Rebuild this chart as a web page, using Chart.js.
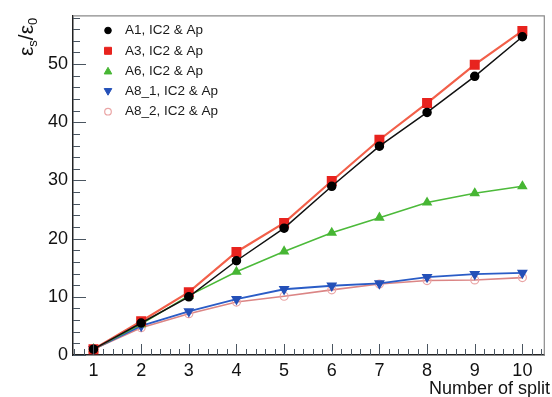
<!DOCTYPE html>
<html>
<head>
<meta charset="utf-8">
<script src="https://cdn.jsdelivr.net/npm/chart.js@4/dist/chart.umd.min.js"></script>
<style>
  html, body { margin: 0; padding: 0; background: #fff; }
  #wrap { width: 552px; height: 397px; }
</style>
</head>
<body>
<div id="wrap"><canvas id="c" width="552" height="397"></canvas></div>
<script>
// --- data ---
const splits = [1, 2, 3, 4, 5, 6, 7, 8, 9, 10];
const xTicks = [1, 2, 3, 4, 5, 6, 7, 8, 9, 10];
const yTicks = [0, 10, 20, 30, 40, 50];
const a1 = [1, 5.5, 10.0, 16.2, 21.8, 29.0, 35.9, 41.7, 47.9, 54.7];
const a3 = [1, 5.8, 10.8, 17.7, 22.7, 29.9, 37.0, 43.3, 49.9, 55.7];
const a6 = [1, 5.3, 10.2, 14.3, 17.8, 21.0, 23.6, 26.2, 27.8, 29.0];
const a8_1 = [1, 5.0, 7.5, 9.6, 11.3, 11.9, 12.3, 13.4, 13.9, 14.1];
const a8_2 = [1, 4.7, 7.1, 9.1, 10.1, 11.2, 12.2, 12.8, 12.9, 13.3];
const labels = ['A1, IC2 & Ap', 'A3, IC2 & Ap', 'A6, IC2 & Ap', 'A8_1, IC2 & Ap', 'A8_2, IC2 & Ap'];

const pts = arr => arr.map((v, i) => ({ x: splits[i], y: v }));
const font = '"Liberation Sans", Arial, sans-serif';

const datasets = [
  { label: labels[0], data: pts(a1), borderColor: '#111', borderWidth: 1.5,
    pointStyle: 'circle', pointRadius: 4, pointBackgroundColor: '#000', pointBorderColor: '#000' },
  { label: labels[1], data: pts(a3), borderColor: '#f2604a', borderWidth: 2.2,
    pointStyle: 'rect', pointRadius: 5.5, pointBackgroundColor: '#e8231e', pointBorderColor: '#e8231e' },
  { label: labels[2], data: pts(a6), borderColor: '#4cba3a', borderWidth: 1.6,
    pointStyle: 'triangle', pointRadius: 4.5, pointBackgroundColor: '#47b634', pointBorderColor: '#47b634' },
  { label: labels[3], data: pts(a8_1), borderColor: '#2a5cc6', borderWidth: 1.8,
    pointStyle: 'triangle', pointRotation: 180, pointRadius: 4.5, pointBackgroundColor: '#2450b8', pointBorderColor: '#2450b8' },
  { label: labels[4], data: pts(a8_2), borderColor: '#db8585', borderWidth: 1.6,
    pointStyle: 'circle', pointRadius: 4, pointBackgroundColor: 'rgba(255,255,255,0)', pointBorderColor: '#eaa5a5', pointBorderWidth: 1.2 }
];
datasets.forEach(d => { d.tension = 0; d.fill = false; });

// ROOT-like frame: inward ticks, legend, axis titles
const frame = {
  id: 'frame',
  afterDatasetsDraw(chart) {
    const { ctx, chartArea: a, scales: { x, y } } = chart;
    ctx.save();
    // top / right box
    ctx.strokeStyle = '#8a8a8a';
    ctx.lineWidth = 1.2;
    ctx.beginPath();
    ctx.moveTo(a.left, a.top); ctx.lineTo(a.right, a.top); ctx.lineTo(a.right, a.bottom);
    ctx.stroke();

    // ticks
    ctx.strokeStyle = '#4a5560';
    ctx.lineWidth = 1;
    ctx.beginPath();
    for (let v = 0; v <= y.max; v += 2) {
      const py = Math.round(y.getPixelForValue(v)) + 0.5;
      const len = v % 10 === 0 ? 13 : 7;
      ctx.moveTo(a.left, py); ctx.lineTo(a.left + len, py);
    }
    for (let k = 3; k <= 52; k++) {
      const v = k / 5;
      if (v < x.min || v > x.max) continue;
      const px = Math.round(x.getPixelForValue(v)) + 0.5;
      const len = k % 5 === 0 ? 11 : 6;
      ctx.moveTo(px, a.bottom); ctx.lineTo(px, a.bottom - len);
    }
    ctx.stroke();

    // legend
    ctx.font = '13.5px ' + font;
    ctx.textBaseline = 'middle';
    ctx.textAlign = 'left';
    chart.data.datasets.forEach((d, i) => {
      const ly = 30.5 + i * 20.3;
      ctx.fillStyle = d.pointBackgroundColor;
      ctx.strokeStyle = d.pointBorderColor;
      ctx.lineWidth = d.pointBorderWidth || 1;
      ctx.beginPath();
      if (d.pointStyle === 'circle') {
        ctx.arc(108, ly, 3.3, 0, Math.PI * 2);
      } else if (d.pointStyle === 'rect') {
        ctx.rect(108 - 3.5, ly - 3.5, 7, 7);
      } else {
        const s = d.pointRotation ? -1 : 1, r = 3.8;
        ctx.moveTo(108, ly - s * r);
        ctx.lineTo(108 - r, ly + s * r * 0.75);
        ctx.lineTo(108 + r, ly + s * r * 0.75);
        ctx.closePath();
      }
      ctx.fill(); ctx.stroke();
      ctx.fillStyle = '#1a1a1a';
      ctx.fillText(d.label, 125, ly);
    });

    // x title
    ctx.fillStyle = '#111';
    ctx.font = '18px ' + font;
    ctx.textAlign = 'right';
    ctx.textBaseline = 'alphabetic';
    ctx.fillText('Number of split', 550, 394);

    // y title: eps_s / eps_0
    ctx.translate(33, 56);
    ctx.rotate(-Math.PI / 2);
    ctx.textAlign = 'left';
    let cx = 0;
    const big = '21px ' + font, small = '13px ' + font;
    const part = (t, f, dy) => { ctx.font = f; ctx.fillText(t, cx, dy); cx += ctx.measureText(t).width; };
    part('\u03b5', big, 0);
    part('s', small, 4);
    part('/', big, 0);
    part('\u03b5', big, 0);
    part('0', small, 4);
    ctx.restore();
  }
};

new Chart(document.getElementById('c'), {
  type: 'line',
  data: { datasets },
  options: {
    responsive: false,
    animation: false,
    layout: { padding: { top: 12, right: 2, left: 0, bottom: 0 } },
    plugins: { legend: { display: false }, tooltip: { enabled: false } },
    scales: {
      x: {
        type: 'linear', min: 0.57, max: 10.46,
        afterBuildTicks: s => { s.ticks = xTicks.map(v => ({ value: v })); },
        afterFit: s => { s.height = 42; },
        grid: { display: false, drawTicks: false },
        border: { display: true, color: '#222', width: 1.5 },
        ticks: { color: '#111', font: { family: font, size: 18 }, padding: 5, maxRotation: 0, autoSkip: false }
      },
      y: {
        type: 'linear', min: 0, max: 58.3,
        afterBuildTicks: s => { s.ticks = yTicks.map(v => ({ value: v })); },
        afterFit: s => { s.width = 73; },
        grid: { display: false, drawTicks: false },
        border: { display: true, color: '#222', width: 1.5 },
        ticks: { color: '#111', font: { family: font, size: 18 }, padding: 5 }
      }
    }
  },
  plugins: [frame]
});
</script>
</body>
</html>
